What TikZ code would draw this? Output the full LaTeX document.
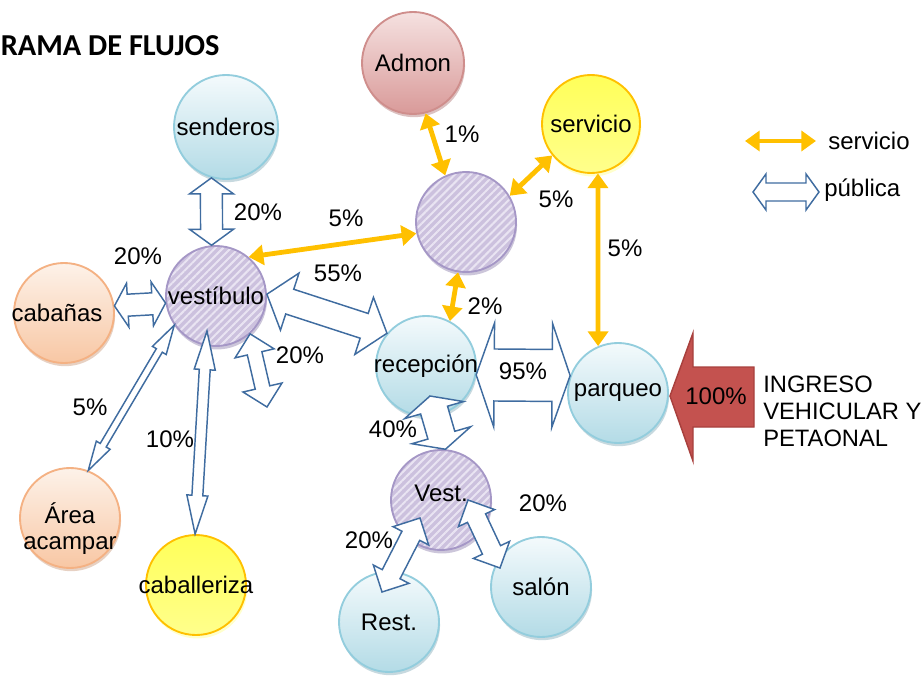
\documentclass[tikz,border=0pt]{standalone}
\usepackage{fontspec}
\setmainfont{Liberation Sans}
\newfontfamily\titlefont{Carlito}
\usetikzlibrary{calc,shadows,patterns.meta,arrows.meta}
\definecolor{blueTop}{HTML}{F4FAFC}
\definecolor{blueBot}{HTML}{B3DBE6}
\definecolor{blueLine}{HTML}{93CDDD}
\definecolor{blueSh}{HTML}{8FB3BF}
\definecolor{lav}{HTML}{CCC1DE}
\definecolor{lavLine}{HTML}{A597C6}
\definecolor{lavStripe}{HTML}{E9E4F2}
\definecolor{lavSh}{HTML}{9A8DB5}
\definecolor{peachTop}{HTML}{FDF2E9}
\definecolor{peachBot}{HTML}{F8C7A4}
\definecolor{peachLine}{HTML}{F4B183}
\definecolor{peachSh}{HTML}{CFA488}
\definecolor{yelTop}{HTML}{FFFF59}
\definecolor{yelBot}{HTML}{FFFF8C}
\definecolor{yelLine}{HTML}{FFC000}
\definecolor{yelSh}{HTML}{FFFF99}
\definecolor{pinkTop}{HTML}{F5E1E0}
\definecolor{pinkBot}{HTML}{D99A99}
\definecolor{pinkLine}{HTML}{CF8E8C}
\definecolor{pinkSh}{HTML}{B98483}
\definecolor{orng}{HTML}{FFC000}
\definecolor{pubblue}{HTML}{3F6CA0}
\definecolor{redfill}{HTML}{C4524F}
\definecolor{redline}{HTML}{A8403D}
\newcommand\cb[1]{\makebox[0pt]{#1}}
\newcommand\pubarrow[6][]{%
  \coordinate (pa) at (#2); \coordinate (pb) at (#3);
  \coordinate (ha) at ($(pa)!#6!(pb)$); \coordinate (hb) at ($(pb)!#6!(pa)$);
  \filldraw[pub,#1] (pa) -- ($(ha)!#5!90:(pb)$) -- ($(ha)!#4!90:(pb)$) -- ($(hb)!#4!-90:(pa)$) -- ($(hb)!#5!-90:(pa)$) -- (pb) -- ($(hb)!#5!90:(pa)$) -- ($(hb)!#4!90:(pa)$) -- ($(ha)!#4!-90:(pb)$) -- ($(ha)!#5!-90:(pb)$) -- cycle;}
\tikzset{
  ball/.style={circle, minimum size=75pt, inner sep=0pt, line width=1.4pt},
  blueball/.style={ball, drop shadow={shadow xshift=0.8pt,shadow yshift=-2.4pt,fill=blueSh}, top color=blueTop, bottom color=blueBot, draw=blueLine},
  peachball/.style={ball, drop shadow={shadow xshift=0.8pt,shadow yshift=-2.4pt,fill=peachSh}, top color=peachTop, bottom color=peachBot, draw=peachLine},
  yelball/.style={ball, drop shadow={shadow xshift=1pt,shadow yshift=-2.6pt,fill=yelSh}, top color=yelTop, bottom color=yelBot, draw=yelLine},
  pinkball/.style={ball, drop shadow={shadow xshift=0.8pt,shadow yshift=-2.4pt,fill=pinkSh}, top color=pinkTop, bottom color=pinkBot, draw=pinkLine},
  hatchball/.style={ball, drop shadow={shadow xshift=0.8pt,shadow yshift=-2.6pt,fill=lavSh}, preaction={fill=lav}, pattern={Lines[angle=45,distance=4.2pt,line width=1.5pt]}, pattern color=lavStripe, draw=lavLine},
  pub/.style={draw=pubblue, fill=white, line width=1.1pt, line join=miter},
  srv/.style={draw=orng, line width=3.6pt, {Triangle[width=15pt,length=11pt]}-{Triangle[width=15pt,length=11pt]}},
  pct/.style={inner sep=0pt},
}
\begin{document}
\begin{tikzpicture}[x=0.75pt,y=-0.75pt, font=\fontsize{18}{19.5}\selectfont]
\useasboundingbox (0,0) rectangle (924,677);
\node[anchor=west, inner sep=0pt, font=\titlefont\bfseries\fontsize{22.8}{26}\selectfont] (title) at (0.5,46) {RAMA DE FLUJOS};
% circles
\node[pinkball, minimum size=76.5pt] (admon) at (413,63) {Admon};
\node[blueball, minimum size=78pt] (send) at (226,127) {senderos};
\node[yelball, minimum size=73.5pt] (serv) at (591,124) {servicio};
\node[hatchball] (ctr) at (466,222) {};
\node[hatchball] (vest) at (216,296) {vestíbulo};
\node[peachball] (cab) at (64,313) {\cb{\hspace{-10.5pt}cabañas}};
\node[blueball] (recep) at (426,366) {\cb{recepción}};
\node[blueball] (parq) at (618,393) {parqueo};
\node[hatchball] (vest2) at (441,500) {\raisebox{-1pt}[0pt][0pt]{Vest.}};
\node[peachball] (area) at (70,518) {\raisebox{-13.4pt}[0pt][0pt]{\begin{tabular}{@{}c@{}}\cb{Área}\\\cb{acampar}\end{tabular}}};
\node[yelball] (caba) at (196,585) {\cb{caballeriza}};
\node[blueball] (rest) at (389,622) {Rest.};
\node[blueball] (salon) at (541,587) {salón};
% public (hollow) arrows
\pubarrow{send.-106}{vest.95}{8.25pt}{16.5pt}{12pt}
\pubarrow{cab.8}{vest.188}{8.25pt}{16.5pt}{10pt}
\pubarrow{vest.2}{recep.140}{9.75pt}{22.5pt}{18pt}
\coordinate (d20) at (267,407);
\pubarrow{vest.-48}{d20}{5.6pt}{15pt}{15pt}
\pubarrow{vest.215}{area.69}{2.6pt}{6pt}{22pt}
\pubarrow{$(vest)+(-9,35)$}{caba.91}{4.1pt}{7.9pt}{29pt}
\pubarrow{recep.-10}{parq.160}{19.5pt}{39pt}{13.5pt}
\pubarrow{$(recep)+(4,30)$}{vest2.85}{10.5pt}{23pt}{11pt}
\pubarrow{$(vest2)+(-21,18)$}{$(rest)+(-7,-30)$}{7.5pt}{15pt}{15pt}
\pubarrow{$(vest2)+(27,0)$}{$(salon)+(-41,-19)$}{7.5pt}{15pt}{15pt}
% service arrows
\draw[srv] (ctr.114) -- (admon.-76);
\draw[srv] (ctr.31) -- (serv.219);
\draw[srv] (ctr.193) -- (vest.50);
\draw[srv] (ctr.-99) -- (recep.62);
\draw[srv] (serv.-82) -- (parq.113);
% entry arrow
\draw[fill=redfill, draw=redline, line width=1.1pt, line join=miter] (670,396) -- (693,333) -- (693,367) -- (754,367) -- (754,427) -- (693,427) -- (693,461) -- cycle;
\node[pct] (p100) at (716,396) {100\%};
\node[anchor=west, align=left, inner sep=0pt, font=\fontsize{17.8}{20.25}\selectfont] (ingreso) at (763,411) {INGRESO\\VEHICULAR Y\\PETAONAL};
% percentages
\node[pct] (l1) at (462,134) {1\%};
\node[pct] (l2) at (556,199) {5\%};
\node[pct] (l3) at (258,212) {20\%};
\node[pct] (l4) at (346,218) {5\%};
\node[pct] (l5) at (625,248) {5\%};
\node[pct] (l6) at (138,256) {20\%};
\node[pct] (l7) at (338,273) {55\%};
\node[pct] (l8) at (485,306) {2\%};
\node[pct] (l9) at (300,355) {20\%};
\node[pct] (l10) at (523,371) {95\%};
\node[pct] (l11) at (90,407) {5\%};
\node[pct] (l12) at (170,439) {10\%};
\node[pct] (l13) at (393,429) {40\%};
\node[pct] (l14) at (543,503) {20\%};
\node[pct] (l15) at (369,540) {20\%};
% legend
\coordinate (lo1) at (745,141);
\coordinate (lo2) at (816,141);
\draw[srv] (lo1) -- (lo2);
\node[anchor=west, inner sep=0pt] (lserv) at (828,141) {servicio};
\coordinate (lp1) at (753,192);
\coordinate (lp2) at (819,192);
\pubarrow{lp1}{lp2}{6.75pt}{13.5pt}{9.75pt}
\node[anchor=west, inner sep=0pt] (lpub) at (824,190) {pública};
\end{tikzpicture}
\end{document}
